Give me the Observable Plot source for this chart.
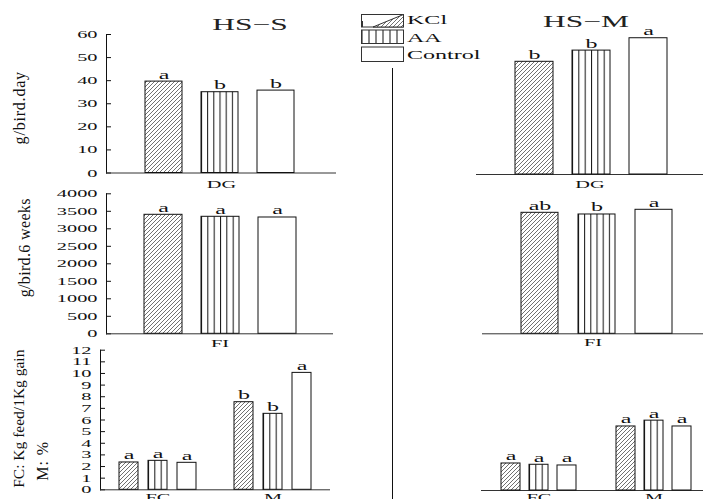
<!DOCTYPE html>
<html><head><meta charset="utf-8">
<script src="https://cdn.jsdelivr.net/npm/d3@7"></script>
<script src="https://cdn.jsdelivr.net/npm/@observablehq/plot@0.6"></script>
<style>
html,body{margin:0;padding:0;background:#fff;}
#chart{position:relative;width:703px;height:499px;overflow:hidden;background:#fff;}
#chart svg{position:absolute;left:0;top:0;}
</style></head><body><div id="chart"></div>
<script>
// ---------- data ----------
const treatments = ["KCl", "AA", "Control"];
const dgGroups = ["DG"];
const fiGroups = ["FI"];
const fcmGroups = ["FC", "M"];

const dgS = [39.6, 35.0, 35.7];   const dgSSig = ["a", "b", "b"];
const dgM = [48.3, 53.1, 58.4];   const dgMSig = ["b", "b", "a"];
const fiS = [3400, 3343, 3323];   const fiSSig = ["a", "a", "a"];
const fiM = [3457, 3409, 3543];   const fiMSig = ["ab", "b", "a"];
const fcS = [2.35, 2.49, 2.32];   const fcSSig = ["a", "a", "a"];
const mS  = [7.53, 6.53, 10.05];  const mSSig  = ["b", "b", "a"];
const fcM = [2.32, 2.21, 2.15];   const fcMSig = ["a", "a", "a"];
const mM  = [5.5, 6.0, 5.5];      const mMSig  = ["a", "a", "a"];

const dgTicks = [0, 10, 20, 30, 40, 50, 60];
const fiTicks = [0, 500, 1000, 1500, 2000, 2500, 3000, 3500, 4000];
const fcmTicks = [0, 1, 2, 3, 4, 5, 6, 7, 8, 9, 10, 11, 12];

const titles = ["HS\u2212S", "HS\u2212M"];
const yLabels = ["g/bird.day", "g/bird.6 weeks", "FC: Kg feed/1Kg gain", "M: %"];

function rows(group, values, sig) {
  return treatments.map((t, i) => ({group, trt: t, value: values[i], sig: sig[i]}));
}

// ---------- setup ----------
const W = 703, H = 499;
const FONT = "'Liberation Serif', 'DejaVu Serif', serif";
const K = 1.85; // horizontal stretch of text
const LINE = "#333";
const chart = document.getElementById("chart");
const LS = {"g/bird.day": 0.8, "g/bird.6 weeks": 0.35, "FC: Kg feed/1Kg gain": 0, "M: %": 1};

function stretch(root) {
  root.querySelectorAll("text").forEach(t => {
    const tr = t.getAttribute("transform") || "";
    const txt = t.textContent;
    if (LS[txt] !== undefined) { t.style.letterSpacing = LS[txt] + "px"; return; }
    if (tr.includes("rotate")) return;
    const L = t.getComputedTextLength();
    if (L > 0) {
      t.setAttribute("textLength", L * K);
      t.setAttribute("lengthAdjust", "spacingAndGlyphs");
    }
  });
}

// overlay: pattern defs, titles, legend, divider
const ov = d3.select(chart).append("svg").attr("width", W).attr("height", H)
  .style("font-family", FONT).style("fill", "#111");
const defs = ov.append("defs");
const diag = defs.append("pattern").attr("id", "diag")
  .attr("patternUnits", "userSpaceOnUse").attr("width", 4).attr("height", 4);
diag.append("rect").attr("width", 4).attr("height", 4).attr("fill", "#fff");
diag.append("path").attr("d", "M0,4L4,0M-1,1L1,-1M3,5L5,3")
  .attr("stroke", "#333").attr("stroke-width", 0.7);
function vert(id, n) {
  const p = defs.append("pattern").attr("id", id)
    .attr("patternUnits", "objectBoundingBox").attr("width", 1 / n).attr("height", 1);
  p.append("rect").attr("width", 1000).attr("height", 3000).attr("fill", "#fff");
  p.append("rect").attr("width", 1).attr("height", 3000).attr("fill", "#111");
}
vert("vert6", 6);
vert("vert3", 3);

const FILLS = {
  big: {KCl: "url(#diag)", AA: "url(#vert6)", Control: "#fff"},
  small: {KCl: "url(#diag)", AA: "url(#vert3)", Control: "#fff"}
};

// titles
ov.append("text").attr("x", 250).attr("y", 30).attr("text-anchor", "middle")
  .attr("font-size", 17).attr("fill", "#222").text(titles[0]);
ov.append("text").attr("x", 586).attr("y", 26.5).attr("text-anchor", "middle")
  .attr("font-size", 17).attr("fill", "#222").text(titles[1]);

// legend
const lg = ov.append("g").attr("font-size", 13);
lg.append("rect").attr("x", 361.5).attr("y", 14.5).attr("width", 42).attr("height", 12.5)
  .attr("fill", "#fff").attr("stroke", LINE);
lg.append("polygon").attr("points", "373,27 403.5,14.5 403.5,27")
  .attr("fill", "url(#diag)").attr("stroke", LINE);
lg.append("line").attr("x1", 362.5).attr("x2", 362.5).attr("y1", 21).attr("y2", 27).attr("stroke", LINE);
lg.append("rect").attr("x", 361.5).attr("y", 30).attr("width", 42).attr("height", 13.5)
  .attr("fill", "url(#vert6)").attr("stroke", LINE);
lg.append("rect").attr("x", 361.5).attr("y", 47).attr("width", 42).attr("height", 14.5)
  .attr("fill", "#fff").attr("stroke", LINE);
lg.append("text").attr("x", 407).attr("y", 24).text(treatments[0]);
lg.append("text").attr("x", 407).attr("y", 41.5).text(treatments[1]);
lg.append("text").attr("x", 407).attr("y", 58.5).text(treatments[2]);

// divider
ov.append("line").attr("x1", 392.5).attr("x2", 392.5).attr("y1", 68).attr("y2", H)
  .attr("stroke", "#111");

stretch(ov.node());

// ---------- panels ----------
function panel(o) {
  const data = o.data;
  const fills = FILLS[o.size];
  const marks = [
    Plot.ruleY([0], {stroke: LINE}),
    ...treatments.map(t => Plot.barY(data.filter(d => d.trt === t), {
      fx: "group", x: "trt", y: "value", fill: fills[t], stroke: "#111", strokeWidth: 1
    })),
    Plot.text(data, {fx: "group", x: "trt", y: "value", text: "sig",
      dy: -3, lineAnchor: "bottom", fontSize: 13}),
    ...(o.labels || []).map(l => Plot.text([{g: o.groups[0], t: l.text}], {
      fx: "g", text: "t", frameAnchor: l.anchor, rotate: -90, textAnchor: l.textAnchor,
      lineAnchor: "top", dx: l.dx, dy: l.dy, fontSize: l.size || 16}))
  ];
  const y = o.ticks
    ? {domain: o.yDomain, ticks: o.ticks, tickFormat: "d", tickSize: -5, tickPadding: 14,
       line: true, label: null}
    : {domain: o.yDomain, axis: null};
  const svg = Plot.plot({
    width: W, height: H,
    marginLeft: o.left, marginRight: W - o.right, marginTop: o.top, marginBottom: H - o.bottom,
    style: {position: "absolute", left: "0px", top: "0px", background: "transparent",
      fontFamily: FONT, fontSize: "11px", color: "#111", overflow: "hidden"},
    fx: {domain: o.groups, padding: 0, axis: "bottom", label: null, tickSize: 0, tickPadding: o.fxPad},
    x: {domain: treatments, axis: null, paddingInner: o.pi, paddingOuter: o.po, align: o.align},
    y,
    marks
  });
  chart.appendChild(svg);
  stretch(svg);
  return svg;
}

panel({data: rows("DG", dgS, dgSSig), groups: dgGroups, size: "big",
  left: 106, right: 336, top: 34, bottom: 172.5, pi: 0.342, po: 0.689, align: 0.484,
  yDomain: [0, 60], ticks: dgTicks, fxPad: 7,
  labels: [{text: yLabels[0], anchor: "left", textAnchor: "middle", dx: -92.5, dy: 4}]});
panel({data: rows("DG", dgM, dgMSig), groups: dgGroups, size: "big",
  left: 476, right: 703, top: 34, bottom: 174, pi: 0.330, po: 0.639, align: 0.517,
  yDomain: [0, 60], fxPad: 6});
panel({data: rows("FI", fiS, fiSSig), groups: fiGroups, size: "big",
  left: 106, right: 333, top: 193.3, bottom: 333.3, pi: 0.342, po: 0.652, align: 0.509,
  yDomain: [0, 4000], ticks: fiTicks, fxPad: 5,
  labels: [{text: yLabels[1], anchor: "left", textAnchor: "middle", dx: -87.5, dy: -16}]});
panel({data: rows("FI", fiM, fiMSig), groups: fiGroups, size: "big",
  left: 482, right: 703, top: 193.3, bottom: 333.3, pi: 0.348, po: 0.596, align: 0.555,
  yDomain: [0, 4000], fxPad: 4});
panel({data: [...rows("FC", fcS, fcSSig), ...rows("M", mS, mSSig)], groups: fcmGroups, size: "small",
  left: 100, right: 330, top: 349.7, bottom: 489.3, pi: 0.345, po: 0.655, align: 0.5,
  yDomain: [0, 12], ticks: fcmTicks, fxPad: 3,
  labels: [
    {text: yLabels[2], anchor: "bottom-left", textAnchor: "start", dx: -88, dy: -2, size: 15.5},
    {text: yLabels[3], anchor: "bottom-left", textAnchor: "start", dx: -63.5, dy: -9}
  ]});
panel({data: [...rows("FC", fcM, fcMSig), ...rows("M", mM, mMSig)], groups: fcmGroups, size: "small",
  left: 480, right: 711, top: 350.3, bottom: 490, pi: 0.328, po: 0.655, align: 0.5,
  yDomain: [0, 12], fxPad: 3});
</script></body></html>
